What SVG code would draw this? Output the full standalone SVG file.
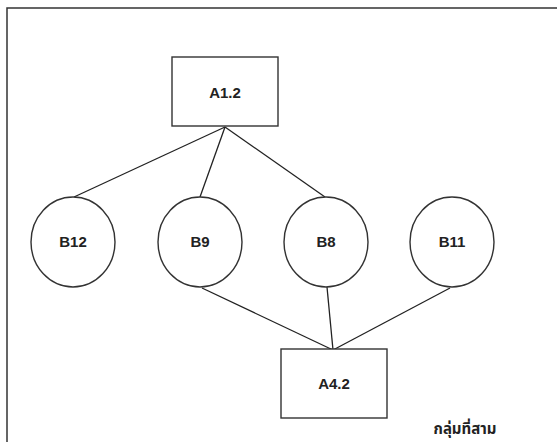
<svg xmlns="http://www.w3.org/2000/svg" width="557" height="442" viewBox="0 0 557 442">
<style>
.frame{stroke:#333;stroke-width:1.5;fill:none}
.box{fill:#fff;stroke:#333;stroke-width:1.4}
.node{fill:#fff;stroke:#333;stroke-width:1.4}
.lbl{font-family:"Liberation Sans",Arial,sans-serif;font-size:15px;font-weight:bold;fill:#222;text-anchor:middle}
.edge{stroke:#222;stroke-width:1.3;fill:none}
.cap{font-family:"Noto Sans Thai","Noto Sans","DejaVu Sans",sans-serif;font-size:15px;font-weight:bold;fill:#222;text-anchor:middle}
</style>
<rect width="557" height="442" fill="#fff"/>
<path class="frame" d="M7,442 V8 H557"/>
<g id="connectors">
<line class="edge" x1="225" y1="127" x2="74" y2="197"/>
<line class="edge" x1="225" y1="127" x2="200" y2="197"/>
<line class="edge" x1="225" y1="127" x2="325" y2="197"/>
<line class="edge" x1="202" y1="288" x2="333" y2="350"/>
<line class="edge" x1="327" y1="287" x2="333" y2="350"/>
<line class="edge" x1="450" y1="288" x2="333" y2="350"/>
</g>
<g id="A1.2">
<rect class="box" x="172" y="57" width="106" height="69"/>
<text class="lbl" x="225" y="98">A1.2</text>
</g>
<g id="B12">
<ellipse class="node" cx="73" cy="242" rx="42" ry="45"/>
<text class="lbl" x="73" y="247">B12</text>
</g>
<g id="B9">
<ellipse class="node" cx="200" cy="242" rx="42" ry="45"/>
<text class="lbl" x="200" y="247">B9</text>
</g>
<g id="B8">
<ellipse class="node" cx="326" cy="242" rx="42" ry="45"/>
<text class="lbl" x="326" y="247">B8</text>
</g>
<g id="B11">
<ellipse class="node" cx="452" cy="242" rx="42" ry="45"/>
<text class="lbl" x="452" y="247">B11</text>
</g>
<g id="A4.2">
<rect class="box" x="281" y="349" width="106" height="69"/>
<text class="lbl" x="334" y="389">A4.2</text>
</g>
<text class="cap" x="465" y="434">กลุ่มที่สาม</text>
</svg>
